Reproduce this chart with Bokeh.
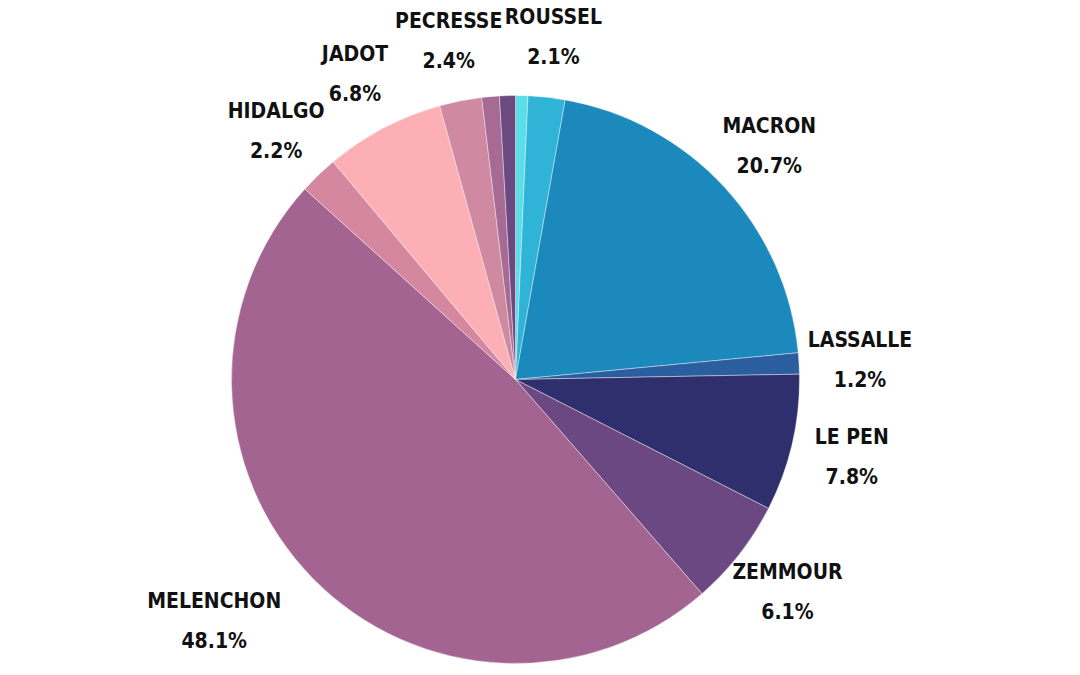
import numpy as np
from bokeh.plotting import figure
from bokeh.models import Range1d, ColumnDataSource
from bokeh.core.properties import value
from bokeh.embed import file_html
from bokeh.resources import INLINE

# Data (clockwise from 12 o'clock)
candidates = ["ARTHAUD", "ROUSSEL", "MACRON", "LASSALLE", "LE PEN", "ZEMMOUR",
              "MELENCHON", "HIDALGO", "JADOT", "PECRESSE", "POUTOU", "DUPONT-AIGNAN"]
shares = [0.7, 2.1, 20.7, 1.2, 7.8, 6.1, 48.1, 2.2, 6.8, 2.4, 1.0, 0.9]
shown = [False, True, True, True, True, True, True, True, True, True, False, False]
colors = ["#5cdde8", "#2fb3d6", "#1b89bb", "#2a5e9e", "#2f2f6d", "#6b4882",
          "#a36491", "#d4879f", "#fcb0b5", "#cf89a0", "#a66a95", "#6b4a80"]

W, H = 1080, 675
cx, cy, R = 515, H - 379, 284
label_r = 1.215
nudge_x = {"MELENCHON": -55}

vals = np.array(shares) / sum(shares)
cum = np.concatenate([[0], np.cumsum(vals)])
start = np.pi / 2 - 2 * np.pi * cum[:-1]
end = np.pi / 2 - 2 * np.pi * cum[1:]

p = figure(width=W, height=H, output_backend="svg", toolbar_location=None,
           x_range=Range1d(0, W), y_range=Range1d(0, H), min_border=0)
p.axis.visible = False
p.grid.visible = False
p.outline_line_color = None
p.background_fill_color = "white"

src = ColumnDataSource(dict(start=end, end=start, color=colors))
p.wedge(x=cx, y=cy, radius=R, start_angle="start", end_angle="end",
        color="color", line_color="white", line_width=0.4, source=src)

mid = 2 * np.pi * (cum[:-1] + cum[1:]) / 2
nx, ny, px, py, names, pcts = [], [], [], [], [], []
for i, c in enumerate(candidates):
    if not shown[i]:
        continue
    lx = cx + label_r * R * np.sin(mid[i]) + nudge_x.get(c, 0)
    ly = cy + label_r * R * np.cos(mid[i])
    names.append(c); nx.append(lx); ny.append(ly + 20)
    pcts.append(f"{shares[i]:.1f}%"); px.append(lx); py.append(ly - 20)

font = value("DejaVu Sans Condensed, Roboto Condensed, Roboto")
p.text(x=nx, y=ny, text=names, text_font=font, text_font_style="bold",
       text_font_size="21px", text_align="center", text_baseline="middle",
       text_color="#111111")
p.text(x=px, y=py, text=pcts, text_font=font, text_font_style="bold",
       text_font_size="21px", text_align="center", text_baseline="middle",
       text_color="#111111")

open("out.html", "w").write(file_html(p, INLINE))
